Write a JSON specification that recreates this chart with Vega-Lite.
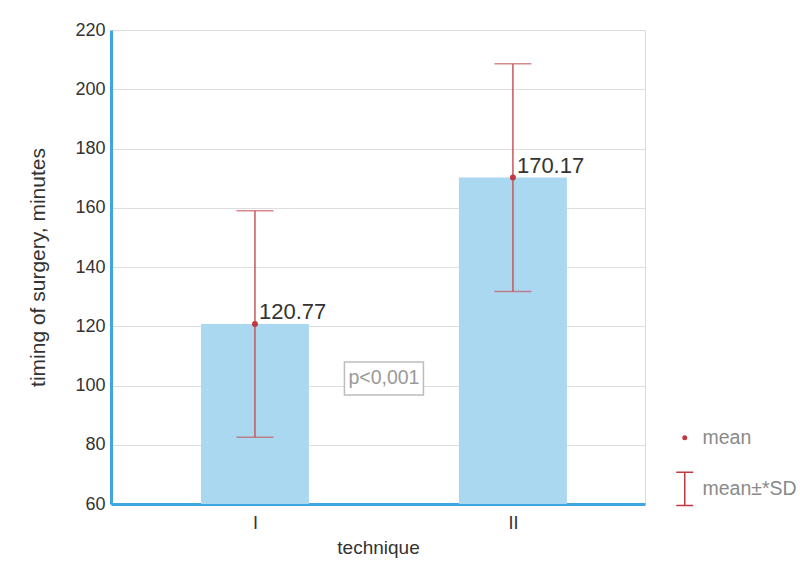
{
  "$schema": "https://vega.github.io/schema/vega-lite/v6.json",
  "width": 534,
  "height": 474,
  "autosize": {"type": "none"},
  "padding": {"left": 111, "top": 30, "right": 155, "bottom": 66},
  "background": "white",
  "config": {
    "font": "Liberation Sans",
    "view": {"stroke": "#dcdcdc", "strokeWidth": 1}
  },
  "datasets": {
    "stats": [
      {"technique": 1, "mean": 120.77, "lo": 82.57, "hi": 158.97, "meanLabel": "120.77"},
      {"technique": 2, "mean": 170.17, "lo": 131.77, "hi": 208.57, "meanLabel": "170.17"}
    ],
    "note": [
      {"x": 1.5, "y": 102.4, "text": "p<0,001"}
    ]
  },
  "data": {"name": "stats"},
  "layer": [
    {
      "mark": {"type": "bar", "size": 108, "color": "#abd8f1", "orient": "vertical"},
      "encoding": {
        "x": {
          "field": "technique",
          "type": "quantitative",
          "scale": {"domain": [0.442, 2.512], "nice": false, "zero": false, "padding": 0},
          "axis": {
            "values": [1, 2],
            "labelExpr": "datum.value == 1 ? 'I' : 'II'",
            "title": "technique",
            "grid": false,
            "ticks": false,
            "domainColor": "#3fa6e2",
            "domainWidth": 3,
            "labelFontSize": 18,
            "labelColor": "#333333",
            "labelPadding": 10,
            "titleFontSize": 19,
            "titleFontWeight": "normal",
            "titleColor": "#333333",
            "titlePadding": 6
          }
        },
        "y": {
          "field": "mean",
          "type": "quantitative",
          "scale": {"domain": [60, 220], "nice": false, "zero": false},
          "axis": {
            "values": [60, 80, 100, 120, 140, 160, 180, 200, 220],
            "title": "timing of surgery, minutes",
            "grid": true,
            "gridColor": "#dedede",
            "gridWidth": 1,
            "ticks": false,
            "domainColor": "#3fa6e2",
            "domainWidth": 3,
            "labelFontSize": 18,
            "labelColor": "#333333",
            "labelPadding": 6,
            "titleFontSize": 21,
            "titleFontWeight": "normal",
            "titleColor": "#333333",
            "titlePadding": 26
          }
        },
        "y2": {"datum": 60}
      }
    },
    {
      "mark": {"type": "rule", "color": "#c4585d", "strokeWidth": 1.5},
      "encoding": {
        "x": {"field": "technique", "type": "quantitative"},
        "y": {"field": "lo", "type": "quantitative"},
        "y2": {"field": "hi"}
      }
    },
    {
      "mark": {"type": "tick", "orient": "horizontal", "size": 37, "thickness": 1.5, "color": "#c4585d"},
      "encoding": {
        "x": {"field": "technique", "type": "quantitative"},
        "y": {"field": "hi", "type": "quantitative"}
      }
    },
    {
      "mark": {"type": "tick", "orient": "horizontal", "size": 37, "thickness": 1.5, "color": "#c4585d"},
      "encoding": {
        "x": {"field": "technique", "type": "quantitative"},
        "y": {"field": "lo", "type": "quantitative"}
      }
    },
    {
      "mark": {"type": "point", "filled": true, "size": 36, "color": "#bf3a40", "opacity": 1},
      "encoding": {
        "x": {"field": "technique", "type": "quantitative"},
        "y": {"field": "mean", "type": "quantitative"},
        "shape": {
          "datum": "mean",
          "scale": {
            "domain": ["mean", "mean±*SD"],
            "range": ["circle", "M-3.4,-6.95H3.4V-6.35H0.3V6.35H3.4V6.95H-3.4V6.35H-0.3V-6.35H-3.4Z"]
          },
          "legend": {
            "title": null,
            "orient": "none",
            "legendX": 564,
            "legendY": 398,
            "labelFontSize": 19.5,
            "labelColor": "#8a8a8a",
            "labelOffset": 8,
            "symbolSize": 25,
            "rowPadding": 23,
            "symbolFillColor": "#c4585d",
            "symbolStrokeColor": "#c4585d",
            "symbolStrokeWidth": 0,
            "symbolOpacity": 1
          }
        }
      }
    },
    {
      "mark": {"type": "text", "align": "left", "baseline": "alphabetic", "dx": 4, "dy": -5, "fontSize": 22, "color": "#333333"},
      "encoding": {
        "x": {"field": "technique", "type": "quantitative"},
        "y": {"field": "mean", "type": "quantitative"},
        "text": {"field": "meanLabel"}
      }
    },
    {
      "data": {"name": "note"},
      "mark": {"type": "point", "shape": "M-39.5,-16.5H39.5V16.5H-39.5Z", "size": 4, "filled": false, "fill": "white", "fillOpacity": 1, "stroke": "#bdbdbd", "strokeWidth": 1.5, "opacity": 1},
      "encoding": {
        "x": {"field": "x", "type": "quantitative"},
        "y": {"field": "y", "type": "quantitative"}
      }
    },
    {
      "data": {"name": "note"},
      "mark": {"type": "text", "align": "center", "baseline": "middle", "fontSize": 19.5, "color": "#9a9a9a"},
      "encoding": {
        "x": {"field": "x", "type": "quantitative"},
        "y": {"field": "y", "type": "quantitative"},
        "text": {"field": "text"}
      }
    }
  ]
}
